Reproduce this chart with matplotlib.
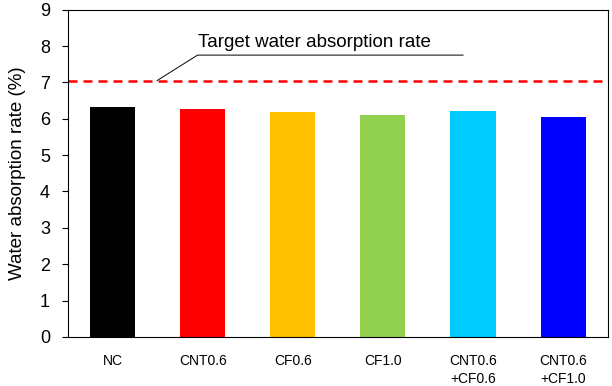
import matplotlib.pyplot as plt
import numpy as np

plt.rcParams["font.family"] = ["Liberation Sans", "DejaVu Sans"]

categories = ["NC", "CNT0.6", "CF0.6", "CF1.0", "CNT0.6\n+CF0.6", "CNT0.6\n+CF1.0"]
rates = [6.32, 6.26, 6.18, 6.10, 6.21, 6.04]
colors = ["#000000", "#FF0000", "#FFC000", "#92D050", "#00CCFF", "#0000FF"]
target = 7.05

fig = plt.figure(figsize=(6.12, 3.86), dpi=100)
ax = fig.add_axes([0.111, 0.127, 0.8825, 0.848])

x = np.arange(len(categories))
ax.bar(x, rates, width=0.5, color=colors)
ax.axhline(target, color="#FF0000", linestyle=(0, (3.6, 2.4)), linewidth=1.8)

# leader line + underline for the annotation
ax.plot([0.49, 0.94, 3.89], [target, 7.75, 7.75], color="black", linewidth=0.7)
ax.text(0.95, 8.1, "Target water absorption rate", fontsize=13.5, ha="left", va="center")

ax.set_xlim(-0.5, len(categories) - 0.5)
ax.set_ylim(0, 9)
ax.set_yticks(range(0, 10))
ax.tick_params(axis="y", labelsize=13, direction="out", length=4, pad=9)
ax.set_xticks(x)
ax.set_xticklabels(categories, fontsize=10, linespacing=1.4)
ax.tick_params(axis="x", length=0, pad=12)
ax.set_ylabel("Water absorption rate (%)", fontsize=13.5, labelpad=10)

fig.savefig("out.png", dpi=100)
